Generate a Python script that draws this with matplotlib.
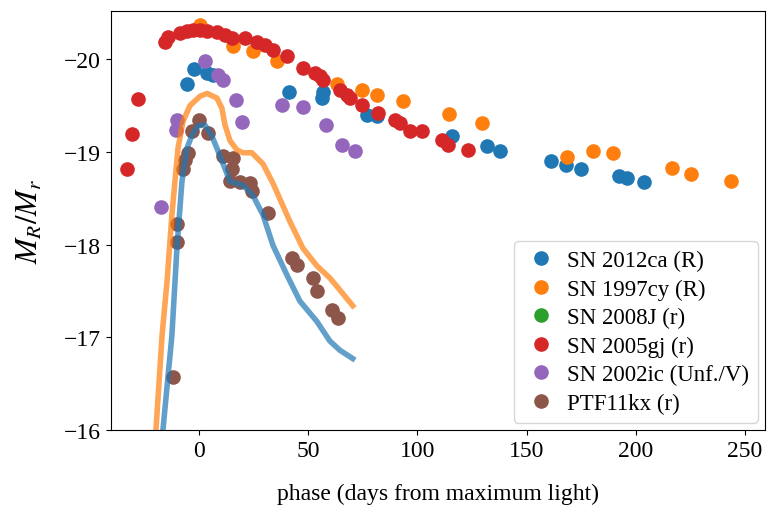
import matplotlib

matplotlib.use("Agg")
import matplotlib.pyplot as plt  # noqa: E402

plt.rcParams["font.family"] = ["Liberation Serif", "DejaVu Serif"]
plt.rcParams["mathtext.fontset"] = "stix"
plt.rcParams["font.size"] = 17

# photometry (phase in days, absolute magnitude)
sn2012ca_t = [-5.5, -2.3, 3.7, 6.4, 41.2, 56.3, 56.7, 76.9, 81.4, 115.7, 131.7,
              137.7, 161.0, 167.9, 174.7, 192.1, 195.8, 203.6]
sn2012ca_m = [-19.73, -19.89, -19.85, -19.83, -19.65, -19.58, -19.65, -19.40,
              -19.39, -19.17, -19.06, -19.01, -18.90, -18.86, -18.81, -18.74,
              -18.72, -18.67]

sn1997cy_t = [0.5, 15.6, 24.7, 35.7, 63.1, 74.6, 81.4, 93.3, 114.4, 129.5,
              168.4, 180.2, 189.4, 216.8, 225.1, 243.4]
sn1997cy_m = [-20.37, -20.14, -20.09, -19.98, -19.73, -19.67, -19.61, -19.55,
              -19.41, -19.31, -18.94, -19.01, -18.99, -18.83, -18.76, -18.69]

sn2008j_t = []
sn2008j_m = []

sn2005gj_t = [-32.9, -30.6, -27.9, -15.6, -14.2, -8.7, -5.5, -2.7, 0.5, 3.7,
              8.2, 11.9, 15.1, 21.0, 26.5, 30.2, 33.9, 40.3, 47.6, 53.1, 55.4,
              56.8, 64.5, 67.7, 69.1, 74.6, 81.9, 89.7, 91.9, 96.5, 102.0,
              111.2, 113.9, 123.1]
sn2005gj_m = [-18.82, -19.19, -19.57, -20.19, -20.24, -20.28, -20.30, -20.31,
              -20.31, -20.30, -20.29, -20.26, -20.23, -20.23, -20.19, -20.15,
              -20.10, -20.03, -19.90, -19.85, -19.82, -19.77, -19.67, -19.61,
              -19.58, -19.51, -19.42, -19.34, -19.31, -19.23, -19.22, -19.13,
              -19.07, -19.02]

sn2002ic_t = [-17.4, -10.5, -10.1, 2.7, 8.7, 11.0, 16.9, 19.7, 38.0, 47.6,
              58.1, 65.4, 71.4]
sn2002ic_m = [-18.40, -19.24, -19.34, -19.98, -19.83, -19.78, -19.56, -19.32,
              -19.51, -19.48, -19.29, -19.07, -19.01]

ptf11kx_t = [-11.9, -10.1, -10.1, -7.3, -6.4, -5.0, -3.2, 0.0, 4.1, 11.0, 15.6,
             15.1, 14.2, 18.8, 23.3, 24.2, 31.6, 42.5, 44.8, 52.2, 54.0, 60.8,
             63.6]
ptf11kx_m = [-16.57, -18.03, -18.22, -18.82, -18.91, -18.99, -19.22, -19.34,
             -19.20, -18.96, -18.93, -18.82, -18.69, -18.68, -18.66, -18.58,
             -18.34, -17.85, -17.78, -17.64, -17.50, -17.29, -17.21]

# template light curves
tmpl_blue_t = [-20.0, -16.5, -12.4, -10.1, -7.8, -5.5, -3.2, -0.5, 2.7, 5.9,
               8.2, 14.2, 20.1, 24.7, 29.3, 33.9, 40.3, 46.2, 54.0, 59.9,
               64.5, 70.4]
tmpl_blue_m = [-15.0, -16.0, -17.02, -17.96, -18.68, -19.04, -19.18, -19.28,
               -19.29, -19.17, -19.04, -18.68, -18.64, -18.53, -18.32, -17.99,
               -17.67, -17.39, -17.17, -16.96, -16.86, -16.77]

tmpl_orange_t = [-22.5, -19.7, -16.9, -14.6, -12.4, -9.6, -7.3, -4.1, 0.5, 3.7,
                 8.2, 10.5, 11.9, 14.2, 17.4, 20.1, 24.2, 29.3, 33.9, 41.6,
                 47.6, 54.0, 59.9, 64.5, 70.4]
tmpl_orange_m = [-15.0, -16.0, -17.02, -17.61, -18.32, -19.04, -19.33, -19.50,
                 -19.60, -19.63, -19.58, -19.47, -19.29, -19.12, -19.02, -18.99,
                 -18.99, -18.87, -18.66, -18.25, -17.96, -17.77, -17.64, -17.51,
                 -17.34]

fig = plt.figure(figsize=(7.69, 5.10), dpi=100)
ax = fig.add_axes([0.1443, 0.155, 0.850, 0.8216])

ms = 9.5
ax.plot(sn2012ca_t, sn2012ca_m, "o", ms=ms, color="tab:blue", label="SN 2012ca (R)")
ax.plot(sn1997cy_t, sn1997cy_m, "o", ms=ms, color="tab:orange", label="SN 1997cy (R)")
ax.plot(sn2008j_t, sn2008j_m, "o", ms=ms, color="tab:green", label="SN 2008J (r)")
ax.plot(sn2005gj_t, sn2005gj_m, "o", ms=ms, color="tab:red", label="SN 2005gj (r)")
ax.plot(sn2002ic_t, sn2002ic_m, "o", ms=ms, color="tab:purple", label="SN 2002ic (Unf./V)")
ax.plot(ptf11kx_t, ptf11kx_m, "o", ms=ms, color="tab:brown", label="PTF11kx (r)")

ax.plot(tmpl_blue_t, tmpl_blue_m, "-", lw=4, color="tab:blue", alpha=0.7)
ax.plot(tmpl_orange_t, tmpl_orange_m, "-", lw=4, color="tab:orange", alpha=0.7)

ax.set_xlim(-40.3, 259)
ax.set_ylim(-16, -20.52)
ax.set_xticks([0, 50, 100, 150, 200, 250])
ax.set_yticks([-20, -19, -18, -17, -16])
ax.set_xlabel("phase (days from maximum light)", labelpad=16)
ax.set_ylabel("$M_R/M_r$", fontsize=22, labelpad=14)
ax.legend(loc="lower right", numpoints=1, fontsize=16.5, handletextpad=0.3,
          labelspacing=0.32, borderaxespad=0.3, handlelength=1.6)

fig.savefig("out.png", dpi=100)
